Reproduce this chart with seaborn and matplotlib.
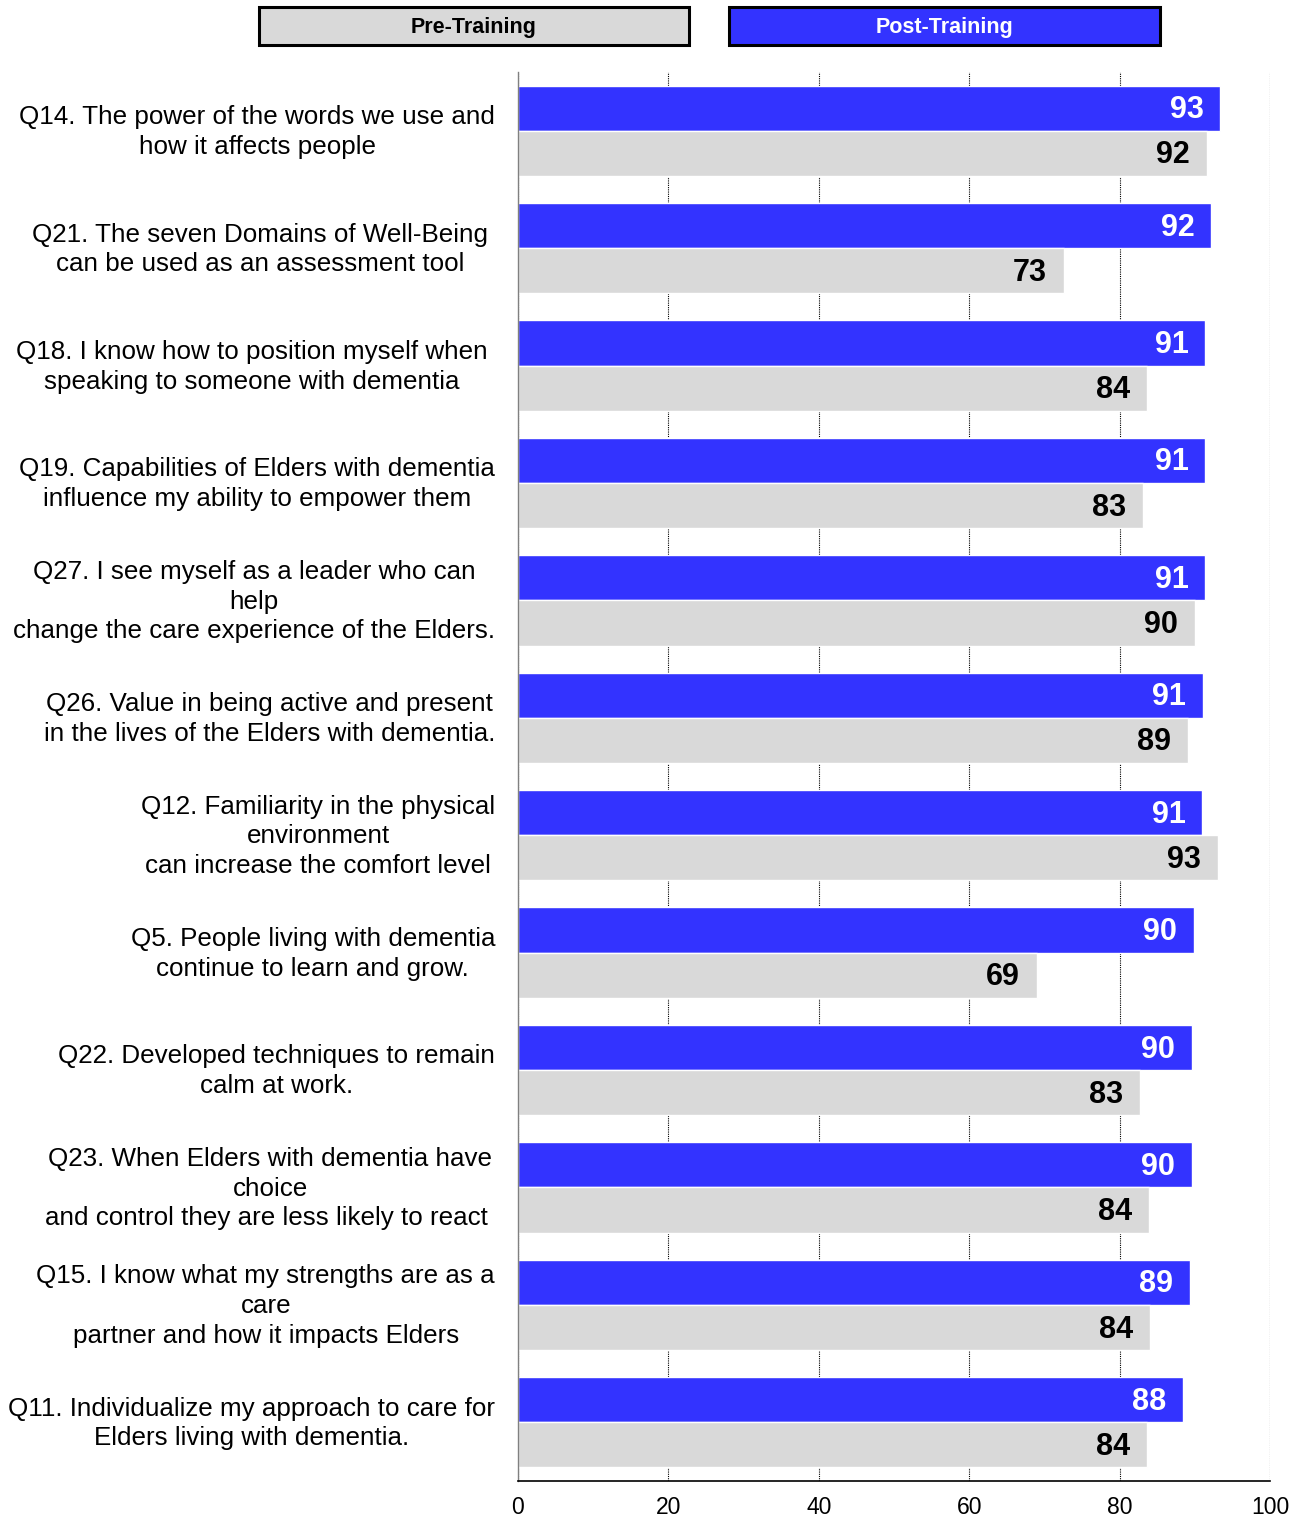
import numpy as np
import pandas as pd
import seaborn as sns
import matplotlib.pyplot as plt
from matplotlib.patches import Rectangle

questions = [
    "Q14. The power of the words we use and\nhow it affects people",
    "Q21. The seven Domains of Well-Being \ncan be used as an assessment tool ",
    "Q18. I know how to position myself when \nspeaking to someone with dementia ",
    "Q19. Capabilities of Elders with dementia\ninfluence my ability to empower them",
    "Q27. I see myself as a leader who can\nhelp\nchange the care experience of the Elders.",
    "Q26. Value in being active and present\nin the lives of the Elders with dementia.",
    "Q12. Familiarity in the physical\nenvironment\ncan increase the comfort level",
    "Q5. People living with dementia\ncontinue to learn and grow.",
    "Q22. Developed techniques to remain\ncalm at work.",
    "Q23. When Elders with dementia have\nchoice\nand control they are less likely to react ",
    "Q15. I know what my strengths are as a\ncare\npartner and how it impacts Elders",
    "Q11. Individualize my approach to care for\nElders living with dementia.",
]
post_values = [93.4, 92.2, 91.4, 91.4, 91.4, 91.1, 91.0, 89.9, 89.6, 89.6, 89.4, 88.4]
pre_values = [91.6, 72.6, 83.6, 83.1, 90.0, 89.1, 93.1, 69.0, 82.7, 83.9, 84.0, 83.6]
periods = ["Post-Training", "Pre-Training"]
colors = {"Post-Training": "#3333FF", "Pre-Training": "#D9D9D9"}
label_colors = {"Post-Training": "white", "Pre-Training": "black"}
xticks = [0, 20, 40, 60, 80, 100]

df = pd.DataFrame({
    "question": questions * 2,
    "value": post_values + pre_values,
    "period": ["Post-Training"] * len(questions) + ["Pre-Training"] * len(questions),
})

sns.set_style("white")
plt.rcParams['font.family'] = ['Liberation Sans', 'DejaVu Sans']
plt.rcParams['text.color'] = 'black'
plt.rcParams['xtick.color'] = 'black'
plt.rcParams['ytick.color'] = 'black'

fig = plt.figure(figsize=(12.95, 15.17), dpi=100)
ax = fig.add_axes([518 / 1295, 1 - 1481 / 1517, (1270 - 518) / 1295, (1481 - 72) / 1517])

sns.barplot(data=df, y="question", x="value", hue="period", hue_order=periods,
            order=questions, palette=colors, orient="h", width=0.77, gap=0,
            saturation=1, legend=False, ax=ax)

ax.set_xlim(0, 100)
ax.set_ylim(len(questions) - 0.5, -0.5)
ax.set_xlabel("")
ax.set_ylabel("")

ax.set_xticks(xticks)
ax.set_xticklabels([str(t) for t in xticks], fontsize=16.5, color="black")
# label anchors nudged slightly upward (major ticks have zero length)
ax.set_yticks([i - 0.035 for i in range(len(questions))])
ax.set_yticklabels(questions, fontsize=18.7, multialignment="center",
                   linespacing=1.3, color="black")
ax.set_yticks(np.arange(-0.5, len(questions), 1), minor=True)

ax.tick_params(axis="y", which="major", length=0, pad=16.5)
ax.tick_params(axis="y", which="minor", length=4.5, width=1, color="#808080", direction="out")
ax.tick_params(axis="x", which="major", length=5, width=1, color="black", direction="out", pad=6)

for s in ["top", "right"]:
    ax.spines[s].set_visible(False)
ax.spines["left"].set_color("#808080")
ax.spines["left"].set_linewidth(1)
ax.spines["bottom"].set_color("black")
ax.spines["bottom"].set_linewidth(1.2)

ax.set_axisbelow(True)
ax.grid(axis="x", which="major", color="black", linestyle=(0, (1, 1)), linewidth=0.8)
ax.grid(axis="y", visible=False)

for container, period in zip(ax.containers, periods):
    for bar in container:
        w = bar.get_width()
        ax.annotate(f"{w:.0f}", xy=(w, bar.get_y() + bar.get_height() / 2),
                    xytext=(-12.2, -1.5), textcoords="offset points",
                    ha="right", va="center", fontsize=22, fontweight="bold",
                    color=label_colors[period])

# Legend boxes at top
W, H = 1295, 1517
boxes = [
    ("Pre-Training", 259, 689, colors["Pre-Training"], "black"),
    ("Post-Training", 729, 1160, colors["Post-Training"], "white"),
]
for text, x0, x1, fc, tc in boxes:
    rect = Rectangle((x0 / W, 1 - 45 / H), (x1 - x0) / W, 38 / H,
                     transform=fig.transFigure, facecolor=fc, edgecolor="black",
                     linewidth=2.2)
    fig.add_artist(rect)
    fig.text((x0 + x1) / 2 / W, 1 - 27 / H, text, ha="center", va="center",
             fontsize=15.5, fontweight="bold", color=tc)

fig.savefig("out.png", dpi=100)
